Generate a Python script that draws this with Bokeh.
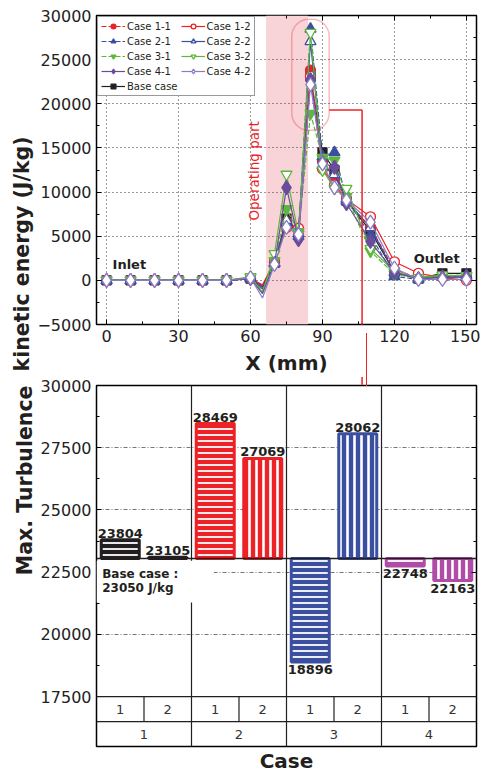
import math
from bokeh.plotting import figure
from bokeh.models import (ColumnDataSource, FactorRange, BoxAnnotation, Span, Label, Title,
                          LinearAxis, SingleIntervalTicker, FixedTicker, Legend, LegendItem,
                          Arrow, NormalHead, TeeHead, Range1d, Div, CDSView, IndexFilter)
from bokeh.layouts import column
from bokeh.embed import file_html
from bokeh.resources import INLINE
from bokeh.core.properties import value

FONT = "DejaVu Sans"

# ---------------- data: TKE along X ----------------
x_mm = [0, 10, 20, 30, 40, 50, 60, 65, 70, 75, 80, 85, 90, 95, 100, 110, 120, 130, 140, 150]
marker_at = [x for x in x_mm if x != 65]          # the dip at 65 mm has no symbol
tke_base = [0, 0, 0, 0, 0, 0, 200, -700, 2000, 7000, 5500, 23050, 14500, 12500, 9000, 5600, 900, 200, 800, 800]
tke_case11 = [0, 0, 0, 0, 0, 0, 200, -600, 2000, 6600, 5500, 23804, 13500, 11500, 9000, 6000, 1200, 300, 500, 300]
tke_case12 = [0, 0, 0, 0, 0, 0, 200, -500, 2100, 6000, 5900, 23105, 12600, 10800, 9200, 7200, 2100, 800, 300, 0]
tke_case21 = [0, 0, 0, 0, 0, 0, 200, -800, 2000, 6500, 5300, 28469, 14000, 14500, 9200, 5100, 450, 100, 500, 600]
tke_case22 = [0, 0, 0, 0, 0, 0, 300, -1000, 1900, 6800, 5000, 27069, 13000, 12000, 9000, 6000, 900, 200, 400, 400]
tke_case31 = [0, 0, 0, 0, 0, 0, 300, -1200, 2200, 8100, 5500, 18896, 13900, 13600, 9500, 3300, 700, 200, 500, 500]
tke_case32 = [0, 0, 0, 0, 0, 0, 400, -1400, 3000, 12000, 5200, 28062, 12500, 10400, 10400, 3600, 1000, 300, 600, 500]
tke_case41 = [0, 0, 0, 0, 0, 0, 200, -1500, 1900, 10500, 4600, 22748, 13300, 12800, 8700, 4400, 900, 200, 300, 400]
tke_case42 = [0, 0, 0, 0, 0, 0, 300, -2000, 1800, 6000, 5200, 22163, 13200, 10500, 9100, 6600, 1400, 100, 100, 100]
operating_part = [66.5, 84.0]

# ---------------- data: max TKE per case ----------------
case_groups = ["1", "2", "3", "4"]
sub_cases = ["1", "2"]
max_tke = [23804, 23105, 28469, 27069, 18896, 28062, 22748, 22163]
base_case_max = 23050
bar_y_ticks = [17500, 20000, 22500, 25000, 27500, 30000]

RED = "#ec2227"
BLUE = "#3a4f9f"
GREEN = "#5cb83c"
PURPLE = "#6a4b9c"
LAVENDER = "#8a7cc2"
MAGENTA = "#b04ca8"
BLACK = "#231f20"
case_colors = [BLACK, RED, BLUE, MAGENTA]


def style_axis(ax, labels=True):
    ax.major_tick_in = 5
    ax.major_tick_out = 0
    ax.minor_tick_in = 3
    ax.minor_tick_out = 0
    ax.axis_line_color = None
    ax.major_tick_line_color = "black"
    ax.minor_tick_line_color = "black"
    if labels:
        ax.major_label_text_font = FONT
        ax.major_label_text_font_size = "16px"
        ax.major_label_text_color = "#222222"
        ax.axis_label_text_font = FONT
        ax.axis_label_text_font_size = "20px"
        ax.axis_label_text_font_style = "bold"
        ax.axis_label_text_color = BLACK
    else:
        ax.major_label_text_font_size = "1px"
        ax.major_label_text_color = None
        ax.major_label_standoff = 0


# ================= top chart =================
W = 480
TOP_H = 377
TOP_BL, TOP_BR, TOP_BT, TOP_BB = 96, 4, 15, 49
top = figure(width=W, height=TOP_H, x_range=Range1d(-4.2, 154.2), y_range=Range1d(-5000, 30000),
             output_backend="svg", toolbar_location=None,
             min_border_left=TOP_BL, min_border_right=TOP_BR, min_border_top=TOP_BT,
             min_border_bottom=TOP_BB)
top.outline_line_color = "black"
top.outline_line_width = 1.5
top.outline_line_alpha = 1

xt = SingleIntervalTicker(interval=30, num_minor_ticks=2)
yt = SingleIntervalTicker(interval=5000, num_minor_ticks=2)
top.xaxis.ticker = xt
top.yaxis.ticker = yt
top.xaxis.axis_label = "X (mm)"
top.xaxis.axis_label_standoff = 6
style_axis(top.xaxis[0])
style_axis(top.yaxis[0])
ax_r = LinearAxis(ticker=yt)
style_axis(ax_r, labels=False)
top.add_layout(ax_r, "right")
ax_t = LinearAxis(ticker=xt)
style_axis(ax_t, labels=False)
top.add_layout(ax_t, "above")

top.xgrid.ticker = xt
top.ygrid.ticker = yt
top.grid.grid_line_color = "#333333"
top.grid.grid_line_dash = "1 3"
top.grid.grid_line_width = 1

top.add_layout(BoxAnnotation(left=operating_part[0], right=operating_part[1],
                             fill_color="#f8d3d7", fill_alpha=1, line_color=None, level="image"))

series = [
    ("Base case", tke_base, "square", BLACK, BLACK, "solid", 9),
    ("Case 1-1", tke_case11, "circle", RED, RED, "5 2", 10),
    ("Case 1-2", tke_case12, "circle", RED, "white", "solid", 10),
    ("Case 2-1", tke_case21, "triangle", BLUE, BLUE, "5 2", 11),
    ("Case 2-2", tke_case22, "triangle", BLUE, "white", "solid", 11),
    ("Case 3-1", tke_case31, "inverted_triangle", GREEN, GREEN, "5 2", 11),
    ("Case 3-2", tke_case32, "inverted_triangle", GREEN, "white", "solid", 11),
    ("Case 4-1", tke_case41, "diamond", PURPLE, PURPLE, "solid", 14),
    ("Case 4-2", tke_case42, "diamond", LAVENDER, "white", "solid", 14),
]
marker_idx = [i for i, x in enumerate(x_mm) if x in marker_at]
items = {}
for name, ys, marker, lc, fc, dash, size in series:
    src = ColumnDataSource(dict(x=x_mm, y=ys))
    lr = top.line("x", "y", source=src, line_color=lc, line_width=1.2, line_dash=dash)
    sr = top.scatter("x", "y", source=src, view=CDSView(filter=IndexFilter(marker_idx)),
                     marker=marker, size=size, line_color=lc, fill_color=fc, line_width=1.3)
    items[name] = LegendItem(label=name, renderers=[lr, sr])

# legend fills column by column: left column, then right column
legend_order = ["Case 1-1", "Case 2-1", "Case 3-1", "Case 4-1", "Base case",
                "Case 1-2", "Case 2-2", "Case 3-2", "Case 4-2"]
legend = Legend(items=[items[n] for n in legend_order], location="top_left", ncols=2,
                label_text_font=FONT, label_text_font_size="10px", label_text_color=BLACK,
                glyph_width=24, glyph_height=12, label_height=12, spacing=3, padding=3,
                margin=1, label_standoff=2, border_line_color="#333333", border_line_width=1.5,
                background_fill_alpha=1)
top.add_layout(legend)

top.add_layout(Label(x=61.3, y=12400, text="Operating part", angle=math.pi / 2,
                     text_align="center", text_baseline="middle", text_color=RED,
                     text_font=FONT, text_font_size="13.5px"))
top.add_layout(Label(x=2.5, y=1800, text="Inlet", text_align="left", text_baseline="middle",
                     text_color=BLACK, text_font=FONT, text_font_size="13px",
                     text_font_style="bold"))
top.add_layout(Label(x=128, y=2500, text="Outlet", text_align="left", text_baseline="middle",
                     text_color=BLACK, text_font=FONT, text_font_size="13px",
                     text_font_style="bold"))

peak_x = x_mm[tke_base.index(max(tke_base))]
top.add_layout(BoxAnnotation(left=peak_x - 7.8, right=peak_x + 7.8, bottom=min(max_tke) - 1900,
                             top=max(max_tke) + 1100, border_radius=17, fill_alpha=0,
                             line_color=RED, line_width=1.5))
conn_x = 106.5
conn_y = 19300
top.add_layout(Arrow(end=None, x_start=peak_x + 7.8, y_start=conn_y, x_end=conn_x, y_end=conn_y,
                     line_color=RED, line_width=1.5))
top.add_layout(Arrow(end=None, x_start=conn_x, y_start=conn_y, x_end=conn_x, y_end=-5000,
                     line_color=RED, line_width=1.5))

# continuation of the connector below the frame
frame_h = TOP_H - TOP_BT - TOP_BB
frame_w = W - TOP_BL - TOP_BR
px_per_unit = frame_h / 35000.0
gap_px = TOP_BB
y_mid = -5000 - (gap_px / 2.0) / px_per_unit
top.add_layout(Arrow(end=TeeHead(size=gap_px + 2, line_color=RED, line_width=1.5),
                     x_start=conn_x - 3, y_start=y_mid, x_end=conn_x, y_end=y_mid,
                     line_color=RED, line_width=1.5))
conn_px = TOP_BL + (conn_x - top.x_range.start) / (top.x_range.end - top.x_range.start) * frame_w
connector = Div(text="", width=2, height=gap_px + 4,
                styles={"position": "absolute", "left": "%.1fpx" % (conn_px - 0.75),
                        "top": "%dpx" % (TOP_H - TOP_BB), "width": "0px",
                        "height": "%dpx" % (gap_px + 4),
                        "border-left": "1.5px solid %s" % RED, "z-index": "5"})

top.add_layout(Title(text="kinetic energy (J/kg)", align="left", offset=-47, standoff=2,
                     text_font=FONT, text_font_size="20.5px", text_font_style="bold",
                     text_color=BLACK), "left")

# ================= bar chart with case table =================
factors = [(g, s) for g in case_groups for s in sub_cases]
xr = FactorRange(*factors, factor_padding=0, group_padding=0, subgroup_padding=0, range_padding=0)
row_h = 1000
y_bottom = bar_y_ticks[0] - 2 * row_h

bars = figure(width=W, height=396, x_range=xr, y_range=Range1d(y_bottom, bar_y_ticks[-1]),
              output_backend="svg", toolbar_location=None,
              min_border_left=TOP_BL, min_border_right=TOP_BR, min_border_top=8,
              min_border_bottom=27)
bars.outline_line_color = "black"
bars.outline_line_width = 1.5
bars.outline_line_alpha = 1
bars.xaxis.visible = False
minor = [(a + b) / 2 for a, b in zip(bar_y_ticks[:-1], bar_y_ticks[1:])]
byt = FixedTicker(ticks=bar_y_ticks, minor_ticks=minor)
bars.yaxis.ticker = byt
style_axis(bars.yaxis[0])
bax_r = LinearAxis(ticker=byt)
style_axis(bax_r, labels=False)
bars.add_layout(bax_r, "right")
bars.xgrid.visible = False
bars.ygrid.ticker = FixedTicker(ticks=bar_y_ticks[1:-1])
bars.ygrid.grid_line_color = "#777777"
bars.ygrid.grid_line_dash = "4 2 1 2"

bar_colors = [case_colors[case_groups.index(g)] for g, s in factors]
bar_hatch = ["horizontal_line" if s == "1" else "vertical_line" for g, s in factors]
bar_scale = [6 if s == "1" else 7 for g, s in factors]
bar_weight = [1.8 if s == "1" else 2.6 for g, s in factors]
bsrc = ColumnDataSource(dict(x=factors, top=max_tke, color=bar_colors, hatch=bar_hatch,
                             scale=bar_scale, weight=bar_weight))
bars.vbar(x="x", top="top", bottom=base_case_max, width=0.8, source=bsrc,
          fill_color="color", line_color="color", line_width=3,
          hatch_pattern="hatch", hatch_color="white", hatch_scale="scale", hatch_weight="weight")

# table lines
n_sub = len(sub_cases)
for loc in range(n_sub, len(factors), n_sub):
    bars.add_layout(Span(location=loc, dimension="height", line_color=BLACK, line_width=1.2))
bars.add_layout(Span(location=bar_y_ticks[0], dimension="width", line_color=BLACK, line_width=1.2))
bars.add_layout(Span(location=bar_y_ticks[0] - row_h, dimension="width", line_color=BLACK,
                     line_width=1.2))
sub_div = [i * n_sub + k for i in range(len(case_groups)) for k in range(1, n_sub)]
bars.segment(x0=sub_div, x1=sub_div, y0=bar_y_ticks[0] - row_h, y1=bar_y_ticks[0],
             line_color=BLACK, line_width=1.2)
bars.text(x=factors, y=bar_y_ticks[0] - 0.5 * row_h, text=[s for g, s in factors],
          text_align="center", text_baseline="middle", text_color="#333333",
          text_font=value(FONT), text_font_size="13px")
bars.text(x=case_groups, y=bar_y_ticks[0] - 1.5 * row_h, text=case_groups,
          text_align="center", text_baseline="middle", text_color="#333333",
          text_font=value(FONT), text_font_size="13px")

bars.add_layout(Span(location=base_case_max, dimension="width", line_color=BLACK, line_width=1.5))

bars.add_layout(BoxAnnotation(left=0, right=2.47, top=base_case_max - 90, bottom=21280,
                              fill_color="white", fill_alpha=1, line_color=None))
bars.add_layout(Label(x=0.12, y=base_case_max - 330, text="Base case :\n23050 J/kg",
                      text_align="left", text_baseline="top", text_color=BLACK,
                      text_font=FONT, text_font_size="12px", text_font_style="bold",
                      text_line_height=1.05))

up = [(f, v) for f, v in zip(factors, max_tke) if v >= base_case_max]
dn = [(f, v) for f, v in zip(factors, max_tke) if v < base_case_max]
bars.text(x=[f for f, v in up], y=[v for f, v in up], text=[str(v) for f, v in up],
          text_align="center", text_baseline="bottom", y_offset=-2, text_color=BLACK,
          text_font=value(FONT), text_font_size="13px", text_font_style="bold")
bars.text(x=[f for f, v in dn], y=[v for f, v in dn], text=[str(v) for f, v in dn],
          text_align="center", text_baseline="top", y_offset=3, text_color=BLACK,
          text_font=value(FONT), text_font_size="13px", text_font_style="bold")

arrow_xs = len(factors) * (conn_x - top.x_range.start) / (top.x_range.end - top.x_range.start)
bars.add_layout(Arrow(end=NormalHead(size=8, fill_color=RED, line_color=RED),
                      x_start=arrow_xs, y_start=30400, x_end=arrow_xs, y_end=30030,
                      line_color=RED, line_width=1.5))

bars.add_layout(Title(text="Max. Turbulence", align="right", offset=0, standoff=2,
                      text_font=FONT, text_font_size="20.5px", text_font_style="bold",
                      text_color=BLACK), "left")
bars.add_layout(Title(text="Case", align="center", standoff=0,
                      text_font=FONT, text_font_size="20px", text_font_style="bold",
                      text_color=BLACK), "below")

layout = column(top, bars, connector, spacing=0, styles={"position": "relative"})
open("out.html", "w").write(file_html(layout, INLINE))
